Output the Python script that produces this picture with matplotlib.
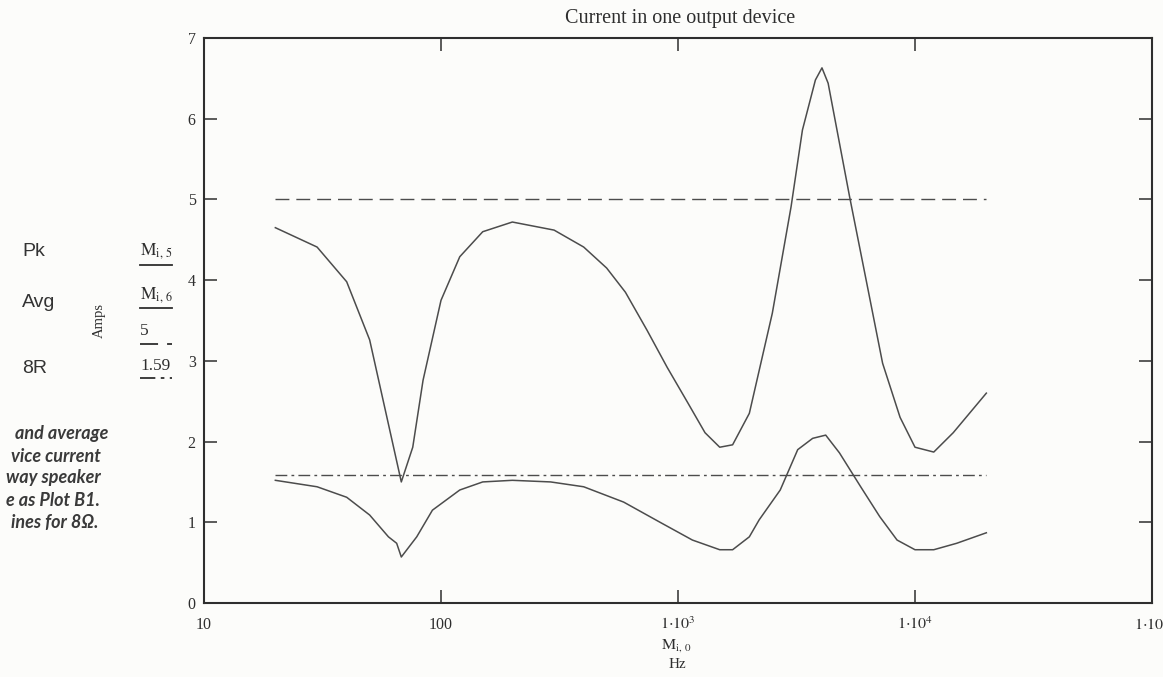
import matplotlib
matplotlib.use("Agg")
import matplotlib.pyplot as plt
from matplotlib.lines import Line2D
from matplotlib.ticker import FixedLocator, NullLocator

# peak current in one device (M[i,5]) and average current (M[i,6]) vs frequency
freq_pk = [20, 30, 40, 50, 68, 76, 84, 100, 120, 150,
           200, 300, 400, 500, 600, 740, 900, 1100, 1300, 1500,
           1700, 2000, 2500, 3000, 3350, 3800, 4050, 4300, 5300, 6300,
           7300, 8650, 10000, 12000, 14500, 20000]
pk = [4.65, 4.41, 3.98, 3.26, 1.50, 1.93, 2.76, 3.75, 4.29, 4.60,
      4.72, 4.62, 4.41, 4.15, 3.85, 3.38, 2.92, 2.48, 2.11, 1.93,
      1.96, 2.35, 3.59, 4.91, 5.86, 6.48, 6.63, 6.44, 5.03, 3.92,
      2.97, 2.30, 1.93, 1.87, 2.11, 2.60]

freq_avg = [20, 30, 40, 50, 60, 65, 68, 79, 92, 120,
            150, 200, 290, 400, 590, 840, 1150, 1500, 1700, 2000,
            2200, 2700, 3200, 3700, 4200, 4800, 5900, 7100, 8400, 10000,
            12000, 15000, 20000]
avg = [1.52, 1.44, 1.31, 1.09, 0.82, 0.74, 0.57, 0.82, 1.15, 1.40,
       1.50, 1.52, 1.50, 1.44, 1.25, 1.00, 0.78, 0.66, 0.66, 0.82,
       1.03, 1.40, 1.90, 2.04, 2.08, 1.86, 1.44, 1.07, 0.78, 0.66,
       0.66, 0.74, 0.87]

pk_limit = 5      # dashed reference
r8_limit = 1.59   # dash-dot reference for 8 ohm

xticks = [10, 100, 1e3, 1e4, 1e5]
xtick_labels = ["10", "100", r"$1{\cdot}10^{3}$", r"$1{\cdot}10^{4}$", r"$1{\cdot}10^{5}$"]
yticks = [0, 1, 2, 3, 4, 5, 6, 7]

side_labels = ["Pk", "Avg", "8R"]
legend_labels = [r"$\mathrm{M}_{\mathrm{i,\,5}}$", r"$\mathrm{M}_{\mathrm{i,\,6}}$", "5", "1.59"]
caption = ["and average", "vice current", "way speaker", "e as Plot B1.", "ines for 8\u03a9."]

plt.rcParams["font.family"] = ["Liberation Serif", "DejaVu Serif"]
plt.rcParams["mathtext.fontset"] = "stix"

W, H = 1163, 677
bg = "#fcfcfa"
ink = "#2e2e2e"
curve = "#4c4c4c"
dash = (0, (10, 5))
dashdot = (0, (8.5, 3, 2, 3))


def fx(x):
    return x / W


def fy(y):
    return 1 - y / H


fig = plt.figure(figsize=(W / 100, H / 100), dpi=100, facecolor=bg)
ax = fig.add_axes([fx(204), fy(603), (1152 - 204) / W, (603 - 38) / H])
ax.set_facecolor(bg)

ax.plot(freq_pk, pk, color=curve, lw=1.1)
ax.plot(freq_avg, avg, color=curve, lw=1.1)
ax.plot([freq_pk[0], freq_pk[-1]], [pk_limit, pk_limit], color=curve, lw=1.0, linestyle=dash)
ax.plot([freq_pk[0], freq_pk[-1]], [r8_limit, r8_limit], color=curve, lw=1.0, linestyle=dashdot)

ax.set_xscale("log")
ax.set_xlim(10, 1e5)
ax.set_ylim(0, 7)
ax.xaxis.set_major_locator(FixedLocator(xticks))
ax.xaxis.set_minor_locator(NullLocator())
ax.set_xticklabels(xtick_labels)
ax.set_yticks(yticks)
ax.tick_params(which="major", direction="in", length=9.5, width=1.1, color=ink,
               top=True, right=True, labelsize=11.5, labelcolor=ink)
ax.tick_params(axis="x", pad=10)
ax.tick_params(axis="y", pad=6)
for s in ax.spines.values():
    s.set_linewidth(1.5)
    s.set_color(ink)

fig.text(fx(680), fy(18), "Current in one output device", ha="center", va="center",
         fontsize=14.5, color=ink)
ax.text(-0.110, 0.5, "Amps", rotation=90, transform=ax.transAxes, ha="center",
        va="center", fontsize=10.5, color=ink)
fig.text(fx(676), fy(646), r"$\mathrm{M}_{\mathrm{i,\,0}}$", ha="center", va="center",
         fontsize=11.5, color=ink)
fig.text(fx(677), fy(665), "Hz", ha="center", va="center", fontsize=11, color=ink)

# Mathcad style trace legend: label above a short line sample
legend_text_y = [251, 295, 331, 366]
legend_line_y = [265, 308, 344, 378]
legend_styles = ["-", "-", dash, dashdot]
for lab, ty, ly, ls in zip(legend_labels, legend_text_y, legend_line_y, legend_styles):
    fig.text(fx(140), fy(ty), lab, ha="left", va="center", fontsize=12.5, color=ink)
    fig.add_artist(Line2D([fx(140), fx(172)], [fy(ly), fy(ly)], color=ink, lw=1.3,
                          linestyle=ls, transform=fig.transFigure))

for lab, y in zip(side_labels, [256, 307, 373]):
    fig.text(fx(22), fy(y), lab, ha="left", va="baseline", fontsize=14,
             family=["Liberation Sans", "DejaVu Sans"], color="#333333")

# caption fragments; the left part of the text block lies off the page
for line, x, y in zip(caption, [108, 101, 101, 100, 98], [434, 456, 478, 500, 522]):
    fig.text(fx(x), fy(y), line, ha="right", va="center", fontsize=13,
             family=["Lato", "Open Sans", "DejaVu Sans"], style="italic",
             weight="bold", color="#3a3a3a")

fig.savefig("out.png", dpi=100, facecolor=bg)
